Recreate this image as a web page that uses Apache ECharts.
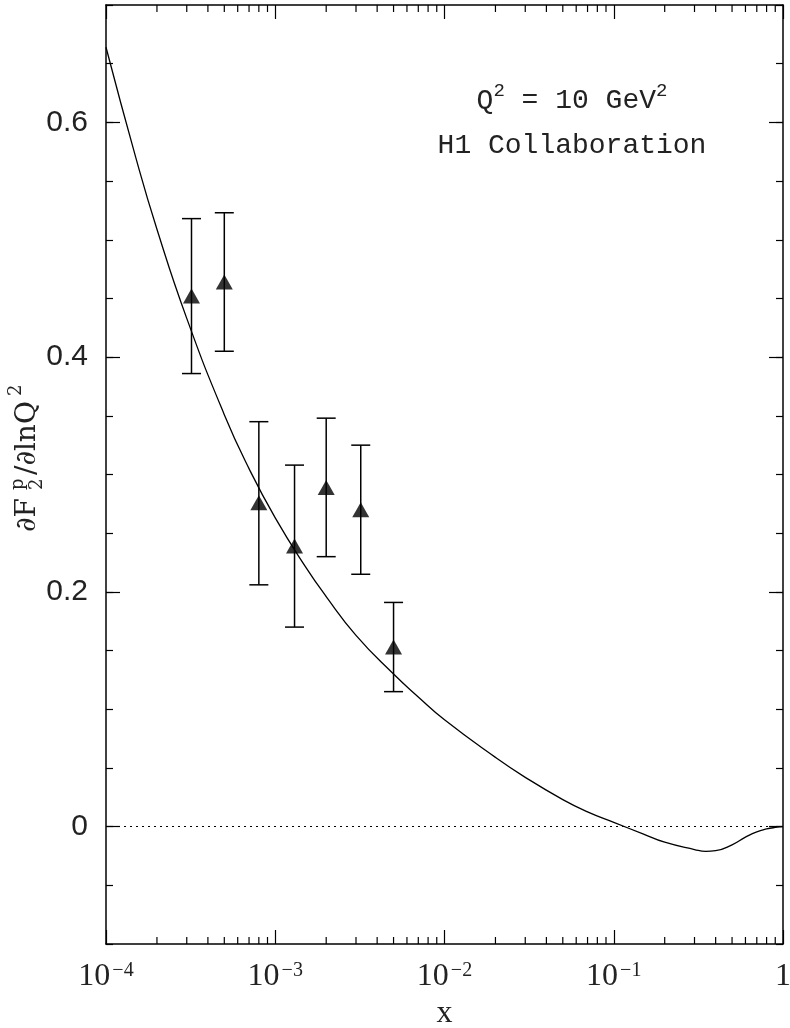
<!DOCTYPE html>
<html>
<head>
<meta charset="utf-8">
<script src="https://cdn.jsdelivr.net/npm/echarts@6/dist/echarts.min.js"></script>
<style>
  html, body { margin: 0; padding: 0; background: #fff; }
  #chart { width: 790px; height: 1028px; }
</style>
</head>
<body>
<div id="chart"></div>
<script>
// H1 data points: x, value, error bar ends
const dataX = [3.2e-4, 5e-4, 8e-4, 1.3e-3, 2e-3, 3.2e-3, 5e-3];
const dataY = [0.452, 0.464, 0.276, 0.239, 0.289, 0.270, 0.153];
const dataLow = [0.386, 0.405, 0.206, 0.170, 0.230, 0.215, 0.115];
const dataHigh = [0.518, 0.523, 0.345, 0.308, 0.348, 0.325, 0.191];

// theory curve
const curveX = [1e-4, 1.5e-4, 2e-4, 3e-4, 5e-4, 7e-4, 1e-3, 1.5e-3, 2e-3, 3e-3, 5e-3, 7e-3,
  1e-2, 2e-2, 3e-2, 5e-2, 7e-2, 0.1, 0.15, 0.2, 0.3, 0.35, 0.4, 0.5, 0.6, 0.7, 0.8, 0.9, 1];
const curveY = [0.664, 0.570, 0.509, 0.433, 0.351, 0.305, 0.263, 0.222, 0.196, 0.163, 0.130, 0.1105,
  0.091, 0.059, 0.042, 0.023, 0.0125, 0.0036, -0.0063, -0.0133, -0.0195, -0.0211, -0.0205, -0.0155,
  -0.009, -0.0044, -0.002, -0.0007, 0];

// axis ticks
const yMajor = [0, 0.2, 0.4, 0.6];
const xMinor = [];
[1e-4, 1e-3, 1e-2, 1e-1].forEach(d => {
  [2, 3, 4, 5, 6, 7, 8, 9].forEach(m => xMinor.push(+(m * d).toPrecision(2)));
});
const Y_MIN = -0.1, Y_MAX = 0.7;

const chart = echarts.init(document.getElementById('chart'), null, { renderer: 'canvas' });

const serif = 'Liberation Serif';
const lineColor = '#000';
const textColor = '#222';

function yAxisCfg(pos, major) {
  return {
    type: 'value',
    position: pos,
    min: Y_MIN,
    max: Y_MAX,
    interval: 0.05,
    axisLine: { show: major, onZero: false, lineStyle: { color: lineColor, width: 1.5 } },
    axisTick: major
      ? { show: true, inside: true, length: 14, lineStyle: { color: lineColor, width: 1.2 }, customValues: yMajor }
      : { show: true, inside: true, length: 7, lineStyle: { color: lineColor, width: 1.2 } },
    axisLabel: (major && pos === 'left') ? {
      show: true,
      customValues: yMajor,
      margin: 18,
      fontFamily: 'Liberation Sans',
      fontSize: 30,
      color: textColor,
      formatter: v => (Math.abs(v) < 1e-9 ? '0' : v.toFixed(1))
    } : { show: false },
    splitLine: { show: false }
  };
}

function xAxisCfg(pos) {
  const bottom = pos === 'bottom';
  return {
    type: 'log',
    logBase: 10,
    min: 1e-4,
    max: 1,
    position: pos,
    name: bottom ? 'x' : '',
    nameLocation: 'middle',
    nameGap: 54,
    nameTextStyle: { fontFamily: serif, fontSize: 32, color: textColor },
    axisLine: { onZero: false, lineStyle: { color: lineColor, width: 1.5 } },
    axisTick: { inside: true, length: 14, lineStyle: { color: lineColor, width: 1.2 } },
    axisLabel: bottom ? {
      margin: 17,
      formatter: v => {
        const e = Math.round(Math.log10(v));
        if (e === 0) return '{b|1}';
        return '{b|10}{e|' + (e < 0 ? '\u2212' : '') + Math.abs(e) + '}';
      },
      rich: {
        b: { fontFamily: serif, fontSize: 32, color: textColor, lineHeight: 32, verticalAlign: 'bottom' },
        e: { fontFamily: serif, fontSize: 20, color: textColor, lineHeight: 20, verticalAlign: 'top', padding: [0, 0, 0, 2] }
      }
    } : { show: false },
    splitLine: { show: false }
  };
}

const option = {
  animation: false,
  backgroundColor: '#fff',
  grid: { left: 106, right: 7, top: 5, bottom: 84, outerBoundsMode: 'none', containLabel: false },
  xAxis: [xAxisCfg('bottom'), xAxisCfg('top')],
  yAxis: [
    yAxisCfg('left', true),
    yAxisCfg('left', false),
    yAxisCfg('right', true),
    yAxisCfg('right', false)
  ],
  graphic: [
    {
      type: 'text',
      x: 572, y: 98,
      style: {
        text: '{a|Q}{s|2}{a| = 10 GeV}{s|2}',
        align: 'center',
        verticalAlign: 'middle',
        rich: {
          a: { fontFamily: 'Liberation Mono', fontSize: 28, lineHeight: 34, verticalAlign: 'bottom', fill: textColor },
          s: { fontFamily: 'Liberation Mono', fontSize: 19, lineHeight: 19, verticalAlign: 'top', fill: textColor }
        }
      }
    },
    {
      type: 'text',
      x: 572, y: 146,
      style: {
        text: 'H1 Collaboration',
        fontFamily: 'Liberation Mono',
        fontSize: 28,
        fill: textColor,
        align: 'center',
        verticalAlign: 'middle'
      }
    },
    {
      // rotated y axis title
      type: 'group',
      x: 28, y: 532,
      rotation: Math.PI / 2,
      children: [
        { type: 'text', x: 0, y: 0, style: { text: '\u2202F', fontFamily: 'DejaVu Serif', fontSize: 28, fill: textColor, verticalAlign: 'middle' } },
        { type: 'text', x: 42, y: -10, style: { text: 'p', fontFamily: 'DejaVu Serif', fontSize: 18, fill: textColor, verticalAlign: 'middle' } },
        { type: 'text', x: 42, y: 9, style: { text: '2', fontFamily: 'DejaVu Serif', fontSize: 18, fill: textColor, verticalAlign: 'middle' } },
        { type: 'text', x: 57, y: 0, style: { text: '/\u2202lnQ', fontFamily: 'DejaVu Serif', fontSize: 28, fill: textColor, verticalAlign: 'middle' } },
        { type: 'text', x: 136, y: -12, style: { text: '2', fontFamily: 'DejaVu Serif', fontSize: 18, fill: textColor, verticalAlign: 'middle' } }
      ]
    }
  ],
  series: [
    {
      // minor log ticks, bottom and top
      type: 'custom',
      silent: true,
      clip: false,
      data: xMinor.map(v => [v, Y_MIN]),
      renderItem: (params, api) => {
        const x = api.value(0);
        const b = api.coord([x, Y_MIN]);
        const t = api.coord([x, Y_MAX]);
        const st = { stroke: lineColor, lineWidth: 1.2 };
        return {
          type: 'group',
          children: [
            { type: 'line', shape: { x1: b[0], y1: b[1], x2: b[0], y2: b[1] - 7 }, style: st },
            { type: 'line', shape: { x1: t[0], y1: t[1], x2: t[0], y2: t[1] + 7 }, style: st }
          ]
        };
      }
    },
    {
      type: 'line',
      data: curveX.map((x, i) => [x, curveY[i]]),
      smooth: 0.5,
      showSymbol: false,
      silent: true,
      lineStyle: { color: lineColor, width: 1.3 },
      markLine: {
        silent: true,
        symbol: 'none',
        label: { show: false },
        lineStyle: { color: lineColor, width: 1.2, type: [2, 4] },
        data: [{ yAxis: 0 }]
      }
    },
    {
      // error bars
      type: 'custom',
      silent: true,
      data: dataX.map((x, i) => [x, dataLow[i], dataHigh[i]]),
      renderItem: (params, api) => {
        const x = api.value(0);
        const lo = api.coord([x, api.value(1)]);
        const hi = api.coord([x, api.value(2)]);
        const w = 9.5;
        const st = { stroke: lineColor, lineWidth: 1.5 };
        return {
          type: 'group',
          children: [
            { type: 'line', shape: { x1: lo[0], y1: lo[1], x2: hi[0], y2: hi[1] }, style: st },
            { type: 'line', shape: { x1: lo[0] - w, y1: lo[1], x2: lo[0] + w, y2: lo[1] }, style: st },
            { type: 'line', shape: { x1: hi[0] - w, y1: hi[1], x2: hi[0] + w, y2: hi[1] }, style: st }
          ]
        };
      }
    },
    {
      type: 'scatter',
      data: dataX.map((x, i) => [x, dataY[i]]),
      symbol: 'triangle',
      symbolSize: [17, 15],
      itemStyle: { color: '#000' },
      silent: true
    }
  ]
};

chart.setOption(option);
</script>
</body>
</html>
